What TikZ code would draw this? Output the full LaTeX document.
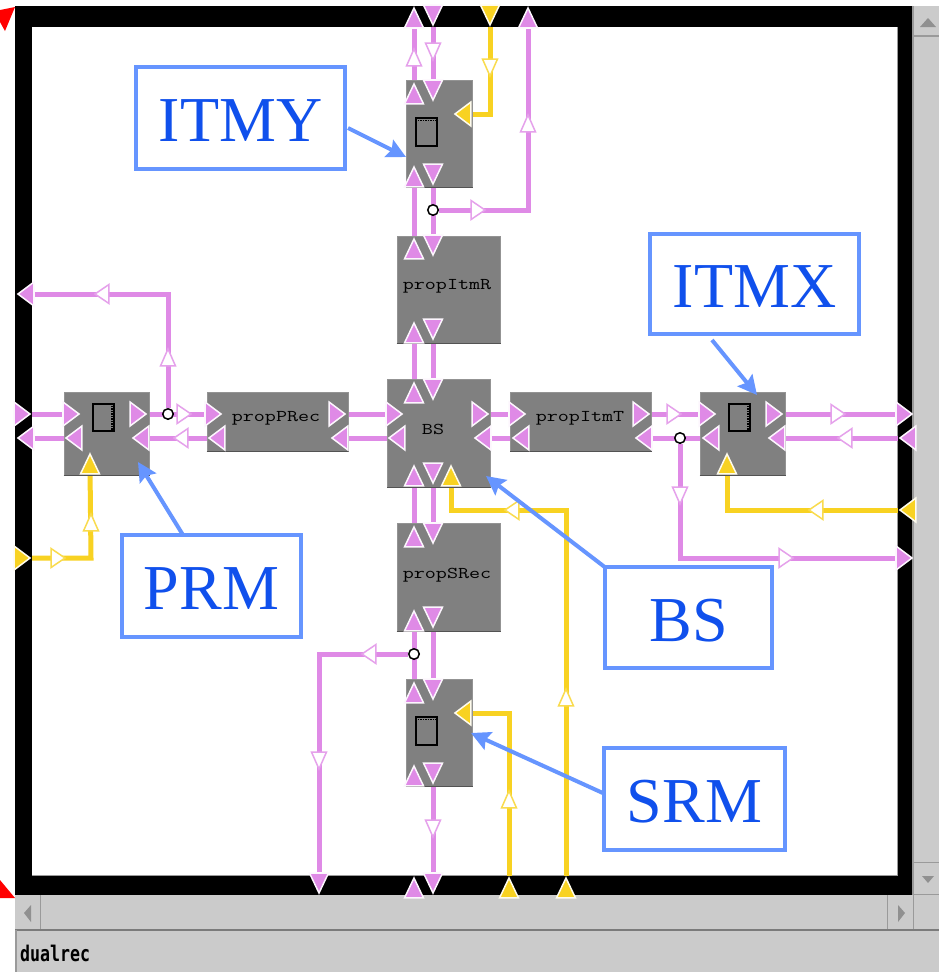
\documentclass[tikz,border=0pt]{standalone}
\usepackage{fontspec}
\setmainfont{Liberation Serif}
\setmonofont{Latin Modern Mono}
\newfontfamily\statusfont{DejaVu Sans Mono}[Scale=1]
\usetikzlibrary{shapes.geometric,arrows.meta}
\pgfdeclarelayer{back}
\pgfdeclarelayer{wires}
\pgfsetlayers{back,wires,main}
\definecolor{wpink}{HTML}{DF8AE6}
\definecolor{wyel}{HTML}{F8D222}
\definecolor{blk}{HTML}{808080}
\definecolor{lblue}{HTML}{6695FF}
\definecolor{ltxt}{HTML}{1050EC}
\definecolor{panel}{HTML}{CBCBCB}
\definecolor{pline}{HTML}{9A9A9A}
\tikzset{
  block/.style={draw=blk!85!white,line width=1pt,fill=blk,inner sep=0pt},
  blocktext/.style={font=\fontsize{16.5}{16.5}\selectfont\ttfamily\bfseries,inner sep=0pt},
  tri/.style={isosceles triangle,isosceles triangle stretches,inner sep=0pt,anchor=apex,rotate=#1,
    minimum height={abs(cos(#1))*16+abs(sin(#1))*20},minimum width={abs(cos(#1))*24+abs(sin(#1))*19}},
  hol/.style={isosceles triangle,isosceles triangle stretches,inner sep=0pt,anchor=apex,rotate=#1,
    minimum height={abs(cos(#1))*14+abs(sin(#1))*17},minimum width={abs(cos(#1))*19+abs(sin(#1))*15},fill=white},
  pp/.style={tri=#1,fill=wpink,draw=white!92!wpink,line width=1.5pt},
  yp/.style={tri=#1,fill=wyel,draw=white!92!wyel,line width=1.5pt},
  pa/.style={hol=#1,draw=wpink!80!white,line width=1.5pt},
  ya/.style={hol=#1,draw=wyel!80!white,line width=1.5pt},
  pw/.style={draw=wpink,line width=5pt,line join=miter},
  yw/.style={draw=wyel,line width=5pt,line join=miter},
  junc/.style={circle,draw=black,fill=white,line width=1.5pt,minimum size=10.5pt,inner sep=0pt},
  lbl/.style={draw=lblue,line width=4pt,fill=white,text=ltxt,font=\fontsize{64}{64}\selectfont,inner sep=0pt},
  larrow/.style={draw=lblue,line width=4pt,-{Stealth[length=19pt,width=19pt,inset=3pt]}},
  icon/.style={draw=black,line width=1.5pt,inner sep=0pt},
  sbtri/.style={fill=pline!110!white},
}
\newcommand{\blocklabel}[1]{\scalebox{1.3}[1]{#1}}
\newcommand{\lift}[1]{\raisebox{-23.5pt}[0pt][0pt]{#1}}
\begin{document}
\begin{tikzpicture}[x=1pt,y=-1pt]
\useasboundingbox (0,0) rectangle (939,972);
\begin{pgfonlayer}{back}
\fill[white] (0,0) rectangle (939,972);
\fill[panel] (913,6) rectangle (939,895);
\fill[panel] (15,895) rectangle (939,972);
\fill[black] (15,6) rectangle (913,895);
\fill[white] (32,27) rectangle (897,875);
\draw[pline,line width=1pt] (32,875) -- (897,875) -- (897,27);
\draw[pline,line width=2pt] (913,6) -- (913,895);
\draw[pline,line width=2pt] (913,36) -- (939,36);
\draw[pline,line width=1pt] (913,862) -- (939,862);
\draw[pline,line width=1pt] (913,894) -- (939,894);
\draw[pline,line width=1pt] (40,895) -- (40,930);
\draw[pline,line width=1pt] (887,895) -- (887,930);
\draw[pline,line width=1pt] (913,895) -- (913,930);
\draw[pline!80!black,line width=2.5pt] (15,930) -- (939,930);
\draw[pline,line width=1.5pt] (16,930) -- (16,972);
\fill[sbtri] (928,18) -- (936,27) -- (920,27) -- cycle;
\fill[sbtri] (928,883) -- (922,876) -- (934,876) -- cycle;
\fill[sbtri] (24,913) -- (31,905) -- (31,922) -- cycle;
\fill[sbtri] (905,913) -- (898,905) -- (898,922) -- cycle;
\fill[red] (15,7) -- (0,10) -- (0,22) -- (5,31) -- cycle;
\fill[red] (0,880) -- (15,898) -- (0,898) -- cycle;
\end{pgfonlayer}

% blocks
\node[block,minimum width=66pt,minimum height=107pt] (ITMY) at (439,133.5) {};
\node[block,minimum width=103pt,minimum height=107pt] (propItmR) at (448.5,289.5) {};
\node[block,minimum width=103pt,minimum height=108pt] (BS) at (439,433) {};
\node[block,minimum width=103pt,minimum height=108pt] (propSRec) at (448.5,577) {};
\node[block,minimum width=66pt,minimum height=107pt] (SRM) at (439,732.5) {};
\node[block,minimum width=85pt,minimum height=83pt] (PRM) at (106.5,433.5) {};
\node[block,minimum width=141pt,minimum height=59pt] (propPRec) at (277.5,421.5) {};
\node[block,minimum width=141pt,minimum height=59pt] (propItmT) at (581,421.5) {};
\node[block,minimum width=85pt,minimum height=83pt] (ITMX) at (742.5,433.5) {};
\node[blocktext] (tItmR) at (447,286) {\blocklabel{propItmR}};
\node[blocktext] (tBS) at (433,429) {\blocklabel{BS}};
\node[blocktext] (tSRec) at (447,575) {\blocklabel{propSRec}};
\node[blocktext] (tPRec) at (276,418) {\blocklabel{propPRec}};
\node[blocktext] (tItmT) at (580,418) {\blocklabel{propItmT}};
\foreach \b in {ITMY,propItmR,BS,propSRec,SRM,PRM,propPRec,propItmT,ITMX}
  \draw[blk!65!black,line width=1.5pt] (\b.south west) -- (\b.south east);

% icons
\node[icon,minimum width=21pt,minimum height=28pt] (iconY) at (426.5,132) {};
\draw[black,line width=1.5pt,densely dotted] (iconY.north west)++(0,3) -- ++(21,0);
\node[icon,minimum width=21pt,minimum height=28pt] (iconS) at (426.5,731) {};
\draw[black,line width=1.5pt,densely dotted] (iconS.north west)++(0,3) -- ++(21,0);
\node[icon,minimum width=21pt,minimum height=27pt] (iconP) at (103.5,417.5) {};
\draw[black,line width=1.5pt,densely dotted] (iconP.north east)++(-3,0) -- ++(0,27);
\node[icon,minimum width=21pt,minimum height=27pt] (iconX) at (739.5,417.5) {};
\draw[black,line width=1.5pt,densely dotted] (iconX.north east)++(-3,0) -- ++(0,27);

% frame ports
\node[pp=90] (fA) at (414,6) {};
\node[pp=-90] (fB) at (433,27) {};
\node[yp=-90] (fC) at (490,27) {};
\node[pp=90] (fD) at (528,6) {};
\node[pp=0] (fE) at (32,414) {};
\node[pp=180] (fF) at (16,438) {};
\node[pp=180] (fG) at (16,294) {};
\node[yp=0] (fH) at (32,558) {};
\node[pp=0] (fI) at (914,414) {};
\node[pp=180] (fJ) at (898,438) {};
\node[yp=180] (fK) at (898,510) {};
\node[pp=0] (fL) at (914,558) {};
\node[pp=-90] (fM) at (319,895) {};
\node[pp=90] (fN) at (414,876) {};
\node[pp=-90] (fO) at (433,895) {};
\node[yp=90] (fP) at (509,876) {};
\node[yp=90] (fQ) at (566,876) {};

% block ports: ITMY
\node[pp=90] (y1) at (414,82) {};
\node[pp=-90] (y2) at (433,102) {};
\node[yp=180] (y3) at (453,114) {};
\node[pp=90] (y4) at (414,165) {};
\node[pp=-90] (y5) at (433,186) {};
% propItmR
\node[pp=90] (r1) at (414,237) {};
\node[pp=-90] (r2) at (433,257) {};
\node[pp=90] (r3) at (414,321) {};
\node[pp=-90] (r4) at (433,341) {};
% BS
\node[pp=90] (b1) at (414,381) {};
\node[pp=-90] (b2) at (433,401) {};
\node[pp=0] (b3) at (404,414) {};
\node[pp=180] (b4) at (387,438) {};
\node[pp=0] (b5) at (490,414) {};
\node[pp=180] (b6) at (473,438) {};
\node[pp=90] (b7) at (414,464) {};
\node[pp=-90] (b8) at (433,485) {};
\node[yp=90] (b9) at (451,464) {};
% propSRec
\node[pp=90] (s1) at (414,525) {};
\node[pp=-90] (s2) at (433,545) {};
\node[pp=90] (s3) at (414,609) {};
\node[pp=-90] (s4) at (433,629) {};
% SRM
\node[pp=90] (m1) at (414,681) {};
\node[pp=-90] (m2) at (433,701) {};
\node[yp=180] (m3) at (453,713) {};
\node[pp=90] (m4) at (414,764) {};
\node[pp=-90] (m5) at (433,785) {};
% PRM
\node[pp=0] (q1) at (81,414) {};
\node[pp=180] (q2) at (64,438) {};
\node[pp=0] (q3) at (148,414) {};
\node[pp=180] (q4) at (131,438) {};
\node[yp=90] (q5) at (90,452) {};
% propPRec
\node[pp=0] (c1) at (223,414) {};
\node[pp=180] (c2) at (207,438) {};
\node[pp=0] (c3) at (347,414) {};
\node[pp=180] (c4) at (330,438) {};
% propItmT
\node[pp=0] (t1) at (527,414) {};
\node[pp=180] (t2) at (511,438) {};
\node[pp=0] (t3) at (651,414) {};
\node[pp=180] (t4) at (634,438) {};
% ITMX
\node[pp=0] (x1) at (717,414) {};
\node[pp=180] (x2) at (701,438) {};
\node[pp=0] (x3) at (784,414) {};
\node[pp=180] (x4) at (767,438) {};
\node[yp=90] (x5) at (727,452) {};

% junctions and corners
\node[junc] (j1) at (433,210) {};
\node[junc] (j2) at (168,414) {};
\node[junc] (j3) at (680,438) {};
\node[junc] (j4) at (414,654) {};
\coordinate (k1) at (528,210);
\coordinate (k2) at (490,114);
\coordinate (k3) at (168,294);
\coordinate (k4) at (91,558);
\coordinate (k5) at (727,510);
\coordinate (k6) at (680,558);
\coordinate (k7) at (451,510);
\coordinate (k8) at (566,510);
\coordinate (k9) at (319,654);
\coordinate (k10) at (509,713);

\begin{pgfonlayer}{wires}
\draw[pw] (fA) -- (y1);
\draw[pw] (fB) -- (y2);
\draw[yw] (fC) -- (k2) -- (y3);
\draw[pw] (fD) -- (k1) -- (j1);
\draw[pw] (y4) -- (r1);
\draw[pw] (y5) -- (r2);
\draw[pw] (r3) -- (b1);
\draw[pw] (r4) -- (b2);
\draw[pw] (b7) -- (s1);
\draw[pw] (b8) -- (s2);
\draw[pw] (s3) -- (m1);
\draw[pw] (s4) -- (m2);
\draw[pw] (m5) -- (fO);
\draw[pw] (j4) -- (k9) -- (fM);
\draw[yw] (m3) -- (k10) -- (fP);
\draw[yw] (b9) -- (k7) -- (k8) -- (fQ);
\draw[pw] (fE) -- (q1);
\draw[pw] (fF) -- (q2);
\draw[yw] (fH) -- (k4) -- (q5);
\draw[pw] (q3) -- (c1);
\draw[pw] (q4) -- (c2);
\draw[pw] (j2) -- (k3) -- (fG);
\draw[pw] (c3) -- (b3);
\draw[pw] (c4) -- (b4);
\draw[pw] (b5) -- (t1);
\draw[pw] (b6) -- (t2);
\draw[pw] (t3) -- (x1);
\draw[pw] (t4) -- (x2);
\draw[pw] (x3) -- (fI);
\draw[pw] (x4) -- (fJ);
\draw[yw] (fK) -- (k5) -- (x5);
\draw[pw] (j3) -- (k6) -- (fL);
\end{pgfonlayer}

% hollow flow arrows
\node[pa=90] (a1) at (414,47) {};
\node[pa=-90] (a2) at (433,62) {};
\node[ya=-90] (a3) at (490,78) {};
\node[pa=90] (a4) at (528,113) {};
\node[pa=0] (a5) at (487,210) {};
\node[pa=90] (a6) at (168,347) {};
\node[pa=180] (a7) at (93,294) {};
\node[pa=0] (a8) at (193,414) {};
\node[pa=180] (a9) at (172,438) {};
\node[ya=0] (a10) at (67,558) {};
\node[ya=90] (a11) at (91,512) {};
\node[pa=0] (a12) at (683,414) {};
\node[pa=0] (a13) at (847,414) {};
\node[pa=180] (a14) at (836,438) {};
\node[ya=180] (a15) at (807,510) {};
\node[pa=-90] (a16) at (680,506) {};
\node[pa=0] (a17) at (795,558) {};
\node[ya=180] (a18) at (503,510) {};
\node[ya=90] (a19) at (566,687) {};
\node[pa=180] (a20) at (360,654) {};
\node[pa=-90] (a21) at (319,771) {};
\node[pa=-90] (a22) at (433,839) {};
\node[ya=90] (a23) at (509,789) {};

% labels
\node[lbl,minimum width=209pt,minimum height=102pt] (lY) at (240.5,118) {\lift{ITMY}};
\node[lbl,minimum width=209pt,minimum height=100pt] (lX) at (754.5,284) {\lift{ITMX}};
\node[lbl,minimum width=179pt,minimum height=102pt] (lP) at (211.5,586) {\lift{PRM}};
\node[lbl,minimum width=167pt,minimum height=101pt] (lB) at (688.5,617.5) {\lift{BS}};
\node[lbl,minimum width=181pt,minimum height=102pt] (lS) at (694.5,799) {\lift{SRM}};
\coordinate (sY) at (348,128);
\coordinate (eY) at (406,157);
\coordinate (sX) at (712,340);
\coordinate (eX) at (757,395);
\coordinate (sP) at (183,535);
\coordinate (eP) at (138,462);
\coordinate (sB) at (606,568);
\coordinate (eB) at (486,476);
\coordinate (sS) at (605,794);
\coordinate (eS) at (471,733);
\draw[larrow] (sY) -- (eY);
\draw[larrow] (sX) -- (eX);
\draw[larrow] (sP) -- (eP);
\draw[larrow] (sB) -- (eB);
\draw[larrow] (sS) -- (eS);

\node[anchor=west,inner sep=0pt,font=\fontsize{16.6}{17}\statusfont] (status) at (20,953) {\scalebox{1}[1.3]{\bfseries dualrec}};
\end{tikzpicture}
\end{document}
